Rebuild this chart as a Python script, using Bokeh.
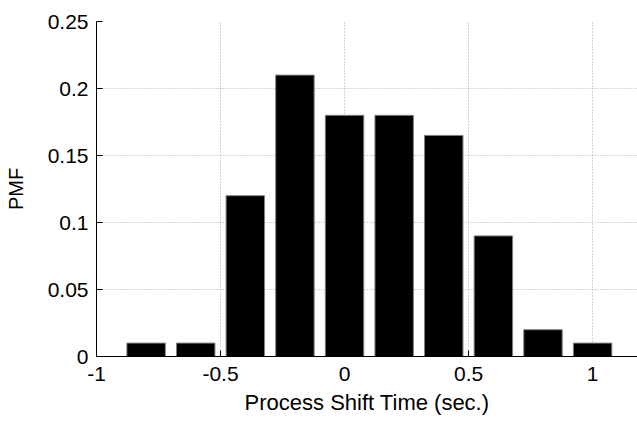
from bokeh.plotting import figure
from bokeh.models import Range1d, FixedTicker
from bokeh.embed import file_html
from bokeh.resources import INLINE

# Data
shift_time = [-0.8, -0.6, -0.4, -0.2, 0.0, 0.2, 0.4, 0.6, 0.8, 1.0]
pmf = [0.01, 0.01, 0.12, 0.21, 0.18, 0.18, 0.165, 0.09, 0.02, 0.01]
x_ticks = [-1, -0.5, 0, 0.5, 1]
y_ticks = [0, 0.05, 0.1, 0.15, 0.2, 0.25]

FONT = "Liberation Sans"

p = figure(width=637, height=421, output_backend="svg", toolbar_location=None,
           x_range=Range1d(-1, 1.181), y_range=Range1d(0, 0.25),
           min_border_left=96, min_border_right=0, min_border_top=21,
           min_border_bottom=65)
p.outline_line_color = None
p.background_fill_color = "white"
p.border_fill_color = "white"

p.vbar(x=shift_time, top=pmf, width=0.155, bottom=0,
       fill_color="black", line_color="#808080", line_width=1)

for ax, ticks in ((p.xaxis, x_ticks), (p.yaxis, y_ticks)):
    ax.ticker = FixedTicker(ticks=ticks)
    ax.major_tick_in = 6
    ax.major_tick_out = 0
    ax.minor_tick_line_color = None
    ax.axis_line_color = "black"
    ax.major_tick_line_color = "black"
    ax.major_label_text_font = FONT
    ax.major_label_text_font_size = "21px"
    ax.major_label_text_color = "black"
    ax.axis_label_text_font = FONT
    ax.axis_label_text_font_style = "normal"
    ax.axis_label_text_color = "black"

p.xaxis.axis_label = "Process Shift Time (sec.)"
p.yaxis.axis_label = "PMF"
p.xaxis.axis_label_text_font_size = "22px"
p.yaxis.axis_label_text_font_size = "20px"
p.xaxis.major_label_standoff = 10
p.yaxis.major_label_standoff = 8
p.xaxis.axis_label_standoff = 6
p.yaxis.axis_label_standoff = 18
p.xaxis.major_label_overrides = {-1: "-1", -0.5: "-0.5", 0: "0", 0.5: "0.5", 1: "1"}
p.yaxis.major_label_overrides = {0: "0", 0.05: "0.05", 0.1: "0.1", 0.15: "0.15", 0.2: "0.2", 0.25: "0.25"}

for g in (p.xgrid, p.ygrid):
    g.grid_line_color = "#a8a8a8"
    g.grid_line_dash = "1 2"
    g.grid_line_width = 1

open("out.html", "w").write(file_html(p, INLINE))
